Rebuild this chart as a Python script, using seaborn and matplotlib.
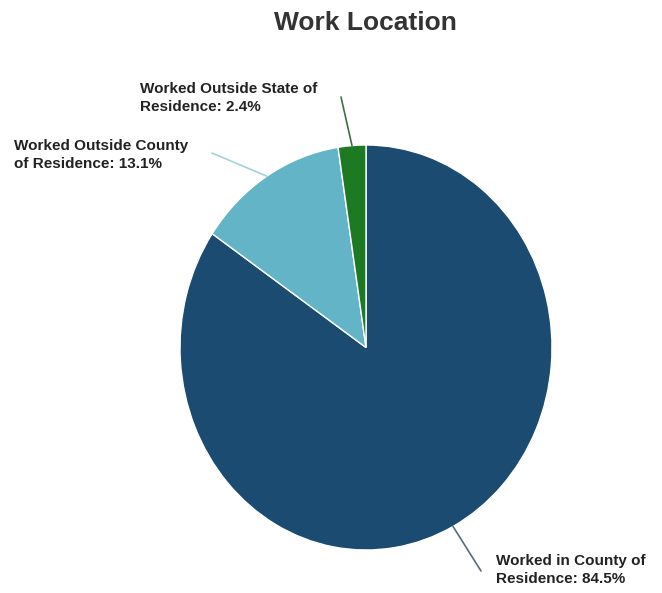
import numpy as np
import matplotlib
matplotlib.use("Agg")
import matplotlib.pyplot as plt
import seaborn as sns

# -------------------------
# Data
# -------------------------
categories = ["Worked in County of Residence",
              "Worked Outside County of Residence",
              "Worked Outside State of Residence"]
shares = [84.5, 13.1, 2.4]
label_text = ["Worked in County of\nResidence: 84.5%",
              "Worked Outside County\nof Residence: 13.1%",
              "Worked Outside State of\nResidence: 2.4%"]
colors = ["#1b4b70", "#62b4c6", "#1e7a22"]
line_colors = ["#5a6a78", "#a3d2dc", "#3f6f45"]

sns.set_theme(style="white")
plt.rcParams["font.family"] = ["Liberation Sans", "DejaVu Sans"]

fig = plt.figure(figsize=(6.62, 5.93), dpi=100)
W, H = 662, 593
# axes box = bounding box of the (slightly stretched) pie
ax = fig.add_axes([180 / W, (H - 550) / H, 372 / W, 405 / H])

wedges, _ = ax.pie(shares, colors=colors, startangle=90, counterclock=False,
                   radius=1, wedgeprops=dict(edgecolor="white", linewidth=1))
ax.set_aspect("auto")
ax.set_xlim(-1, 1)
ax.set_ylim(-1, 1)
ax.axis("off")

# text left edge / vertical centre, and where the leader line starts (figure pixels, y from top)
text_pos = [(496, 570), (14, 155), (140, 98)]
leader_start = [(481, 571), (212, 153), (341, 97)]

for w, txt, (tx, ty), (sx, sy), lc in zip(wedges, label_text, text_pos,
                                          leader_start, line_colors):
    mid = np.deg2rad((w.theta1 + w.theta2) / 2)
    ax.annotate("", xy=(np.cos(mid), np.sin(mid)), xycoords="data",
                xytext=(sx, H - sy), textcoords="figure pixels",
                arrowprops=dict(arrowstyle="-", color=lc, lw=1.2,
                                shrinkA=0, shrinkB=0),
                annotation_clip=False)
    fig.text(tx / W, (H - ty) / H, txt, ha="left", va="center",
             multialignment="left", fontsize=11, fontweight="bold",
             color="#222222", linespacing=1.45)

fig.text(365 / W, (H - 23) / H, "Work Location", ha="center", va="center",
         fontsize=19, fontweight="bold", color="#333333")

fig.savefig("out.png", dpi=100)
